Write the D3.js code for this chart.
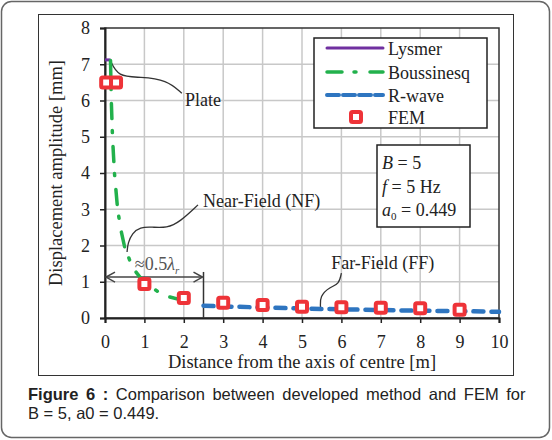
<!DOCTYPE html>
<html><head><meta charset="utf-8">
<script src="https://cdn.jsdelivr.net/npm/d3@7"></script>
<style>body{margin:0;background:#fff}svg{display:block}</style>
</head><body>
<svg id="c" width="552" height="440"></svg>
<script>
// ---- data ----
const xTicks = [0,1,2,3,4,5,6,7,8,9,10];
const yTicks = [0,1,2,3,4,5,6,7,8];
const lysmer = [[0,7.12],[0.14,7.12]];
const boussinesq = [[0.14,7.1],[0.16,6.0],[0.19,5.0],[0.24,4.0],[0.32,3.0],[0.4,2.45],[0.5,1.95],[0.7,1.39],[1.0,0.97],[1.5,0.62],[2.0,0.48],[2.3,0.41]];
const rwave = [[2.5,0.34],[3,0.32],[4,0.29],[5,0.26],[6,0.24],[7,0.22],[8,0.2],[9,0.19],[10,0.17]];
const femX = [0.03,0.28,1,2,3,4,5,6,7,8,9];
const femY = [6.5,6.5,0.94,0.55,0.42,0.36,0.31,0.3,0.28,0.27,0.23];
const legendNames = ["Lysmer","Boussinesq","R-wave","FEM"];
const plateLeader = [[0.13,7.12],[0.33,6.65],[0.89,6.65],[1.57,6.57],[1.95,6.2]];
const nfLeader = [[2.36,3.12],[1.9,2.65],[1.57,2.48],[1.19,2.51],[0.89,2.51],[0.69,2.34],[0.58,2.07],[0.56,1.82]];
const ffLeader = [[6.0,1.24],[5.94,0.93],[5.71,0.86],[5.45,0.6],[5.47,0.3]];

const svg = d3.select("#c");
const x = d3.scaleLinear().domain([0,10]).range([105,499]);
const y = d3.scaleLinear().domain([0,8]).range([318,28]);
const serif = "'Liberation Serif','Times New Roman',serif";

// card
svg.append("rect").attr("x",1.5).attr("y",1.5).attr("width",548).attr("height",436).attr("rx",10)
  .attr("fill","#fff").attr("stroke","#666").attr("stroke-width",1.5);
svg.append("rect").attr("x",38.5).attr("y",14.5).attr("width",475).attr("height",361)
  .attr("fill","#fff").attr("stroke","#333").attr("stroke-width",1);

// grid
const g = svg.append("g");
g.selectAll(".vg").data(xTicks.slice(1,-1)).join("line")
  .attr("x1",d=>x(d)).attr("x2",d=>x(d)).attr("y1",y(0)).attr("y2",y(8))
  .attr("stroke","#c8c8c8").attr("stroke-width",1.5);
g.selectAll(".hg").data(yTicks.slice(1,-1)).join("line")
  .attr("y1",d=>y(d)).attr("y2",d=>y(d)).attr("x1",x(0)).attr("x2",x(10))
  .attr("stroke","#c8c8c8").attr("stroke-width",1.5);
// plot border
g.append("rect").attr("x",x(0)).attr("y",y(8)).attr("width",x(10)-x(0)).attr("height",y(0)-y(8))
  .attr("fill","none").attr("stroke","#333").attr("stroke-width",1.5);

// axes
const xa = svg.append("g").attr("transform",`translate(0,${y(0)})`)
  .call(d3.axisBottom(x).tickValues(xTicks).tickSize(5).tickPadding(12).tickFormat(d3.format("d")));
const ya = svg.append("g").attr("transform",`translate(${x(0)},0)`)
  .call(d3.axisLeft(y).tickValues(yTicks).tickSize(5).tickPadding(10).tickFormat(d3.format("d")));
[xa,ya].forEach(a=>{
  a.select(".domain").attr("stroke","#222").attr("stroke-width",2);
  a.selectAll(".tick line").attr("stroke","#222").attr("stroke-width",1.5);
  a.selectAll("text").attr("font-family",serif).attr("font-size",18).attr("fill","#222");
});
svg.append("text").attr("x",302).attr("y",368).attr("text-anchor","middle")
  .attr("font-family",serif).attr("font-size",18.5).attr("fill","#222")
  .text("Distance from the axis of centre [m]");
svg.append("text").attr("transform","translate(62,173) rotate(-90)").attr("text-anchor","middle")
  .attr("font-family",serif).attr("font-size",18.5).attr("fill","#222")
  .text("Displacement amplitude [mm]");

const line = d3.line().x(d=>x(d[0])).y(d=>y(d[1]));
const curve = d3.line().x(d=>x(d[0])).y(d=>y(d[1])).curve(d3.curveBasis);

// annotations
const annC = "#333";
[plateLeader,nfLeader,ffLeader].forEach(p=>{
  svg.append("path").attr("d",curve(p)).attr("fill","none").attr("stroke",annC).attr("stroke-width",1.3);
});
svg.append("text").attr("x",x(2.03)).attr("y",y(5.85)).attr("font-family",serif).attr("font-size",18).attr("fill","#222").text("Plate");
svg.append("text").attr("x",x(2.49)).attr("y",y(3.07)).attr("font-family",serif).attr("font-size",18).attr("fill","#222").text("Near-Field (NF)");
svg.append("text").attr("x",x(5.74)).attr("y",y(1.36)).attr("font-family",serif).attr("font-size",18).attr("fill","#222").text("Far-Field (FF)");

// 0.5 lambda marker
svg.append("line").attr("x1",x(2.5)).attr("x2",x(2.5)).attr("y1",y(0)).attr("y2",y(1.27))
  .attr("stroke","#333").attr("stroke-width",1.5);
const ay = y(1.13);
svg.append("line").attr("x1",x(0)+1).attr("x2",x(2.5)-1).attr("y1",ay).attr("y2",ay).attr("stroke","#444").attr("stroke-width",1.5);
svg.append("path").attr("d",`M${x(0)+10},${ay-5}L${x(0)+1},${ay}L${x(0)+10},${ay+5}`).attr("fill","none").attr("stroke","#444").attr("stroke-width",1.5);
svg.append("path").attr("d",`M${x(2.5)-10},${ay-5}L${x(2.5)-1},${ay}L${x(2.5)-10},${ay+5}`).attr("fill","none").attr("stroke","#444").attr("stroke-width",1.5);
const lt = svg.append("text").attr("x",x(1.32)).attr("y",y(1.33)).attr("text-anchor","middle")
  .attr("font-family",serif).attr("font-size",18).attr("fill","#555");
lt.append("tspan").text("≈0.5");
lt.append("tspan").attr("font-style","italic").text("λ");
lt.append("tspan").attr("font-style","italic").attr("font-size",11).attr("dy",4).text("r");

// series
svg.append("path").attr("d",line(lysmer)).attr("fill","none").attr("stroke","#7030a0").attr("stroke-width",3);
svg.append("path").attr("d",line(boussinesq)).attr("fill","none").attr("stroke","#22b14c").attr("stroke-width",3.5)
  .attr("stroke-dasharray","15,12,2,14").attr("stroke-linecap","round");
svg.append("path").attr("d",line(rwave)).attr("fill","none").attr("stroke","#2e75c0").attr("stroke-width",4.5)
  .attr("stroke-dasharray","10,8").attr("stroke-linecap","round");
svg.selectAll(".fem").data(femX.map((d,i)=>[d,femY[i]])).join("rect")
  .attr("x",d=>x(d[0])-5).attr("y",d=>y(d[1])-5).attr("width",10).attr("height",10).attr("rx",1.5)
  .attr("fill","#fff").attr("stroke","#ee3338").attr("stroke-width",4);

// legend
const lg = svg.append("g");
lg.append("rect").attr("x",314).attr("y",38).attr("width",173).attr("height",90).attr("fill","#fff").attr("stroke","#222").attr("stroke-width",1.5);
const ly = [48,72,95,117];
const styles = [
  {c:"#7030a0",w:3,da:null},
  {c:"#22b14c",w:3.5,da:"15,12,2,14"},
  {c:"#2e75c0",w:4,da:"12,4"}
];
styles.forEach((s,i)=>{
  const l = lg.append("line").attr("x1",327).attr("x2",383).attr("y1",ly[i]).attr("y2",ly[i])
    .attr("stroke",s.c).attr("stroke-width",s.w).attr("stroke-linecap","round");
  if(s.da) l.attr("stroke-dasharray",s.da);
});
lg.append("rect").attr("x",351).attr("y",ly[3]-5).attr("width",10).attr("height",10).attr("rx",1.5)
  .attr("fill","#fff").attr("stroke","#ee3338").attr("stroke-width",4);
lg.selectAll(".lt").data(legendNames).join("text").attr("x",388).attr("y",(d,i)=>ly[i]+7)
  .attr("font-family",serif).attr("font-size",18).attr("fill","#222").text(d=>d);

// parameter box
svg.append("rect").attr("x",377).attr("y",145).attr("width",93).attr("height",82).attr("fill","#fff").attr("stroke","#222").attr("stroke-width",1.5);
const p1 = svg.append("text").attr("x",382).attr("y",169).attr("font-family",serif).attr("font-size",18).attr("fill","#222");
p1.append("tspan").attr("font-style","italic").text("B");
p1.append("tspan").text(" = 5");
const p2 = svg.append("text").attr("x",382).attr("y",193).attr("font-family",serif).attr("font-size",18).attr("fill","#222");
p2.append("tspan").attr("font-style","italic").text("f");
p2.append("tspan").text(" = 5 Hz");
const p3 = svg.append("text").attr("x",382).attr("y",216).attr("font-family",serif).attr("font-size",18).attr("fill","#222");
p3.append("tspan").attr("font-style","italic").text("a");
p3.append("tspan").attr("font-size",11).attr("dy",4).text("0");
p3.append("tspan").attr("dy",-4).text(" = 0.449");

// caption
const sans = "'Liberation Sans',Arial,sans-serif";
const c1 = svg.append("text").attr("x",28).attr("y",400).attr("font-family",sans).attr("font-size",16.5)
  .attr("word-spacing",3).attr("fill","#222");
c1.append("tspan").attr("font-weight","bold").text("Figure 6 :");
c1.append("tspan").text(" Comparison between developed method and FEM for");
svg.append("text").attr("x",28).attr("y",419).attr("font-family",sans).attr("font-size",16.5).attr("fill","#222")
  .text("B = 5, a0 = 0.449.");
</script>
</body></html>
